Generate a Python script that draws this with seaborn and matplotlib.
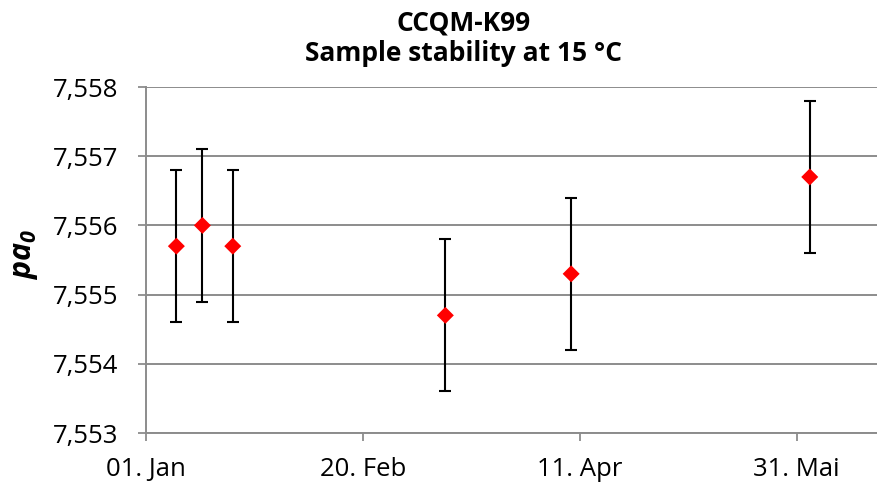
import datetime as dt
import matplotlib
matplotlib.use("Agg")
import matplotlib.pyplot as plt
import matplotlib.dates as mdates
from matplotlib.ticker import FuncFormatter, FixedLocator
import seaborn as sns
import pandas as pd

# ---- data ----
dates = ["2013-01-08", "2013-01-14", "2013-01-21", "2013-03-11", "2013-04-09", "2013-06-03"]
values = [7.5557, 7.5560, 7.5557, 7.5547, 7.5553, 7.5567]
errors = [0.0011, 0.0011, 0.0011, 0.0011, 0.0011, 0.0011]
tick_dates = ["2013-01-01", "2013-02-20", "2013-04-11", "2013-05-31"]
tick_labels = ["01. Jan", "20. Feb", "11. Apr", "31. Mai"]
y_ticks = [7.553, 7.554, 7.555, 7.556, 7.557, 7.558]
title = "CCQM-K99\nSample stability at 15 °C"

df = pd.DataFrame({"date": pd.to_datetime(dates), "value": values, "err": errors})

sns.set_theme(style="white")
plt.rcParams["font.family"] = ["Open Sans", "DejaVu Sans"]
plt.rcParams["text.color"] = "black"
plt.rcParams["mathtext.fontset"] = "custom"
plt.rcParams["mathtext.bf"] = "Open Sans:bold:italic"
plt.rcParams["mathtext.it"] = "Open Sans:italic"

fig = plt.figure(figsize=(8.77, 4.88), dpi=100)
ax = fig.add_axes([146 / 877, 1 - 433 / 488, 1 - 146 / 877, (433 - 87) / 488])

ax.errorbar(df["date"], df["value"], yerr=df["err"], fmt="none", ecolor="black",
            elinewidth=1.5, capsize=4, capthick=1.5, zorder=3)
sns.scatterplot(data=df, x="date", y="value", marker="D", color="#ff0000",
                s=75, edgecolor="none", ax=ax, zorder=4)

ax.set_ylim(7.553, 7.558)
ax.set_yticks(y_ticks)
ax.yaxis.set_major_formatter(FuncFormatter(lambda v, p: f"{v:.3f}".replace(".", ",")))

tick_pos = [mdates.date2num(pd.Timestamp(d)) for d in tick_dates]
ax.set_xlim(tick_pos[0], tick_pos[0] + 168.5)
ax.xaxis.set_major_locator(FixedLocator(tick_pos))
ax.set_xticklabels(tick_labels)

ax.grid(axis="y", color="#8c8c8c", linewidth=1.4)
ax.grid(axis="x", visible=False)
for s in ["top", "right"]:
    ax.spines[s].set_visible(False)
for s in ["left", "bottom"]:
    ax.spines[s].set_color("#8c8c8c")
    ax.spines[s].set_linewidth(1.4)
ax.set_axisbelow(True)

ax.tick_params(axis="both", which="major", length=6, width=1.3, color="#8c8c8c",
               labelsize=18.5, labelcolor="black")
ax.tick_params(axis="x", pad=11, bottom=True)
ax.tick_params(axis="y", pad=14, left=True)
ax.set_xlabel("")
ax.set_ylabel("")

fig.text(25 / 877, 1 - 254 / 488, r"$\mathbf{pa}_\mathbf{0}$", rotation=90,
         ha="center", va="center", fontsize=22, color="black")
fig.text(464 / 877, 1 - 38 / 488, title, ha="center", va="center", fontsize=19,
         fontweight="bold", linespacing=1.15, color="black")

fig.savefig("out.png", dpi=100)
